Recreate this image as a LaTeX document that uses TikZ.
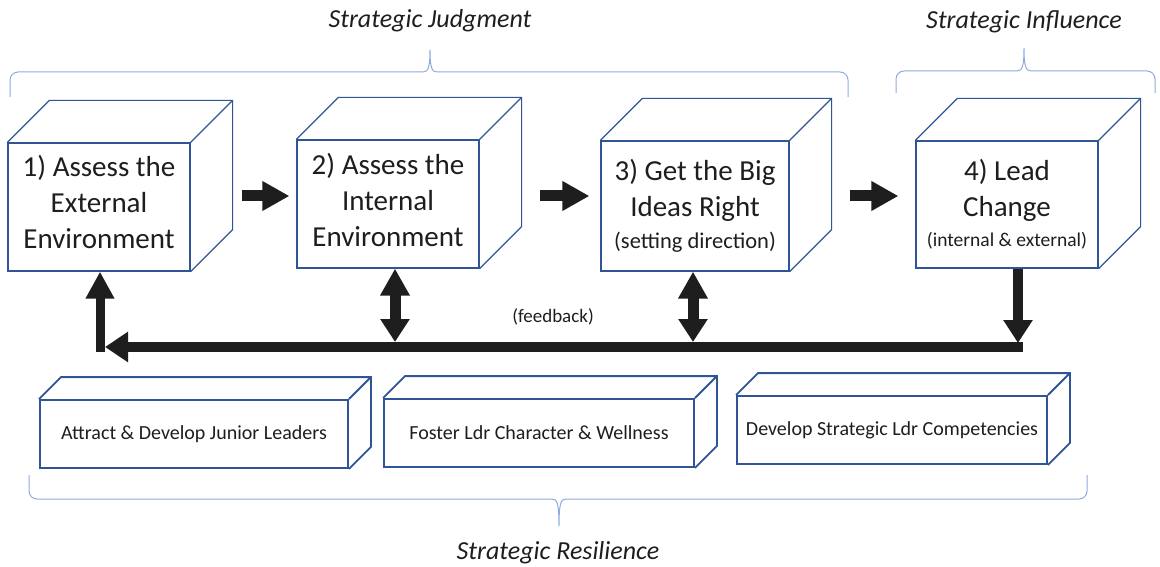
\documentclass[tikz,border=0pt]{standalone}
\usepackage{fontspec}
\setmainfont{Carlito}
\usetikzlibrary{arrows.meta,positioning,calc}
\definecolor{boxblue}{RGB}{47,85,151}
\definecolor{braceblue}{RGB}{143,170,220}
\definecolor{ink}{RGB}{30,30,30}
\tikzset{face/.style={draw=boxblue,line width=1.2pt,fill=white,inner sep=0pt,align=center,text=ink},
	bigbox/.style={face,minimum width=182pt,minimum height=128pt},
	steptext/.style={align=center,text=ink,inner sep=0pt,font=\fontsize{29}{36}\selectfont},
	lowbox/.style={face,line width=1.8pt,minimum width=310pt,minimum height=68pt,font=\fontsize{20}{24}\selectfont},
	flow/.style={draw=ink,line width=11pt,-{Triangle[length=27pt,width=28pt]}},
	fbline/.style={draw=ink,line width=10pt},
	grp/.style={draw=braceblue,line width=1pt},
	grouptitle/.style={text=ink,font=\fontsize{26}{30}\selectfont\itshape}}

\begin{document}
\begin{tikzpicture}[x=1pt,y=1pt]
		\useasboundingbox (0,0) rectangle (1160,-567);
		% the four steps
		\node[bigbox] (b1) at (99,-207) {};
		\node[bigbox] (b2) at (388,-204) {};
		\node[bigbox,minimum width=188pt,minimum height=130pt] (b3) at (695,-206) {};
		\node[bigbox,minimum height=127pt] (b4) at (1007,-204.5) {};
		\foreach \n in {b1,b2,b3,b4}
			\draw[boxblue,line width=1.2pt] (\n.north west) -- ++(42,42) -| ($(\n.south east)+(42,42)$) -- (\n.south east) (\n.north east) -- ++(42,42);
		\node[steptext] (t1) at ([yshift=5pt]b1) {1) Assess the\\External\\Environment};
		\node[steptext] (t2) at ([yshift=4pt]b2) {2) Assess the\\Internal\\Environment};
		\node[steptext] (t3) at (b3) {3) Get the Big\\Ideas Right\\[-4pt]{\fontsize{22.5}{26}\selectfont(setting direction)}};
		\node[steptext] (t4) at (b4) {4) Lead\\Change\\[-6pt]{\fontsize{19.5}{23}\selectfont(internal \& external)}};
		% resilience blocks
		\node[lowbox,minimum width=308pt] (l1) at (194,-434) {Attract \& Develop Junior Leaders};
		\node[lowbox] (l2) at (539,-433) {Foster Ldr Character \& Wellness};
		\node[lowbox] (l3) at (892,-430) {Develop Strategic Ldr Competencies};
		\foreach \n in {l1,l2,l3}
			\draw[boxblue,line width=1.8pt] (\n.north west) -- ++(22,22) -| ($(\n.south east)+(22,22)$) -- (\n.south east) (\n.north east) -- ++(22,22);
		% step arrows
		\coordinate (ar) at (0,-196);
		\foreach \a/\b/\s/\e in {b1/b2/51/7,b2/b3/60/11,b3/b4/60/17}
			\draw[flow,shorten <=\s pt,shorten >=\e pt] (\a.east |- ar) -- (\b.west |- ar);
		% feedback loop
		\coordinate (fbL) at (100,-347);
		\coordinate (fbR) at (1018,-347);
		\coordinate (d2) at (395,-342);
		\coordinate (d3) at (693,-342);
		\draw[fbline,-{Triangle[length=23pt,width=28pt]}] (b4.south -| fbR) -- ([yshift=4pt]fbR);
		\draw[fbline,-{Triangle[length=23pt,width=29pt]}] ([xshift=5pt]fbR) -- ([xshift=5pt]fbL);
		\draw[fbline,line width=9pt,-{Triangle[length=27pt,width=27pt]}] ([yshift=-5pt]fbL) -- (b1.south -| fbL);
		\foreach \n/\d in {b2/d2,b3/d3}
			\draw[fbline,line width=11pt,{Triangle[length=27pt,width=28pt]}-{Triangle[length=23pt,width=28pt]}] (\n.south -| \d) -- (\d);
		\node[text=ink,font=\fontsize{19}{22}\selectfont] (fbl) at (553,-317) {(feedback)};
		% group braces
		\draw[grp] (10,-97) -- (10,-80) arc[start angle=180,end angle=90,radius=8] -- (423,-72) .. controls (428,-72) and (430,-68) .. (430,-50) .. controls (430,-68) and (432,-72) .. (437,-72) -- (840,-72) arc[start angle=90,end angle=0,radius=8] -- (848,-97);
		\draw[grp] (896,-93) -- (896,-79) arc[start angle=180,end angle=90,radius=8] -- (1017,-71) .. controls (1022,-71) and (1024,-67) .. (1024,-48) .. controls (1024,-67) and (1026,-71) .. (1031,-71) -- (1147,-71) arc[start angle=90,end angle=0,radius=8] -- (1155,-93);
		\draw[grp] (29,-475) -- (29,-491) arc[start angle=180,end angle=270,radius=8] -- (552,-499) .. controls (557,-499) and (559,-503) .. (559,-526) .. controls (559,-503) and (561,-499) .. (566,-499) -- (1079,-499) arc[start angle=270,end angle=360,radius=8] -- (1087,-475);
		\node[grouptitle] (sj) at (430,-21) {Strategic Judgment};
		\node[grouptitle] (si) at (1024,-22) {Strategic Influence};
		\node[grouptitle] (sr) at (558,-553) {Strategic Resilience};
		\end{tikzpicture}
\end{document}
